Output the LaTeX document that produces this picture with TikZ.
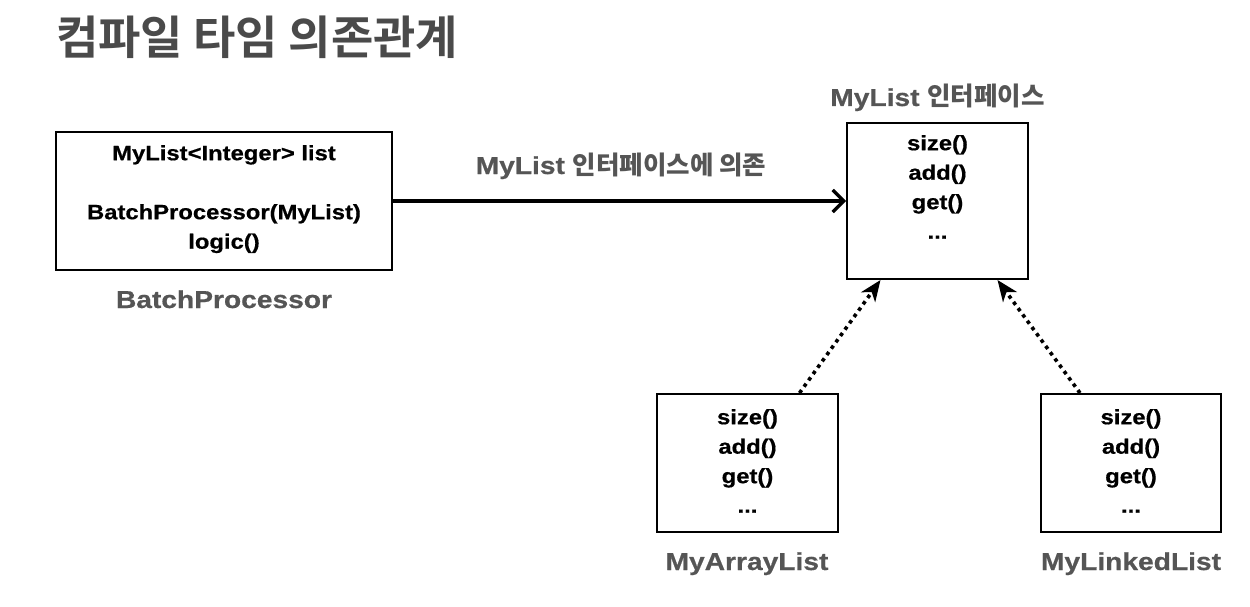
\documentclass[tikz,border=0pt]{standalone}
\usepackage{fontspec}
\setmainfont{Liberation Sans}[FakeStretch=1.15, BoldFeatures={FakeBold=0.6}]
\newfontfamily\krb{Noto Sans CJK KR Bold}
\newcommand{\krlbl}[1]{{\krb\fontsize{25.5}{28}\selectfont #1}}
\usetikzlibrary{arrows.meta}
\definecolor{ttl}{HTML}{4A4A4A}
\definecolor{lbl}{HTML}{555555}
\tikzset{
  box/.style={draw=black, line width=2pt, inner sep=0pt, fill=white},
  bodytxt/.style={font=\bfseries\fontsize{20.7}{29.5}\selectfont, align=center, inner sep=0pt, anchor=north},
  lbltxt/.style={text=lbl, font=\bfseries\fontsize{24.5}{28}\selectfont, inner sep=0pt, anchor=base},
  titletxt/.style={text=ttl, font=\krb\fontsize{46}{52}\selectfont, inner sep=0pt, anchor=base west},
  solidarrow/.style={line width=3.2pt, -{Straight Barb[length=11pt,width=22pt]}},
  dotarrow/.style={line width=3.6pt, dash pattern=on 3.6pt off 4.2pt, -{Stealth[length=21pt,width=17pt,inset=6pt]}}
}
\begin{document}
\begin{tikzpicture}[x=1pt,y=-1pt]
\useasboundingbox[fill=white] (0,0) rectangle (1250,607);
\node[titletxt] (title) at (56,55) {컴파일 타임 의존관계};

\node[box, minimum width=336pt, minimum height=138pt] (bp) at (224,201) {};
\node[bodytxt] (bpt) at (224,145) {MyList<Integer> list\\[29.5pt]BatchProcessor(MyList)\\logic()};
\node[lbltxt] (bpl) at (224,308) {BatchProcessor};

\node[box, minimum width=181pt, minimum height=156pt] (ml) at (937.5,201) {};
\node[bodytxt] (mlt) at (937.5,135) {size()\\add()\\get()\\...};
\node[lbltxt] (mll) at (937.5,106) {MyList \krlbl{인터페이스}};

\node[box, minimum width=181pt, minimum height=138pt] (al) at (747.5,463) {};
\node[bodytxt] (alt) at (747.5,409) {size()\\add()\\get()\\...};
\node[lbltxt] (all) at (747,570) {MyArrayList};

\node[box, minimum width=180pt, minimum height=138pt] (ll) at (1131,463) {};
\node[bodytxt] (llt) at (1131,409) {size()\\add()\\get()\\...};
\node[lbltxt] (lll) at (1131,570) {MyLinkedList};

\draw[solidarrow] (bp.east) -- (ml.west);
\node[lbltxt] (dep) at (621,174) {MyList \krlbl{인터페이스에 의존}};

\draw[dotarrow] ([xshift=52pt]al.north) -- ([xshift=-57pt]ml.south);
\draw[dotarrow] ([xshift=-51pt]ll.north) -- ([xshift=60pt]ml.south);
\end{tikzpicture}
\end{document}
